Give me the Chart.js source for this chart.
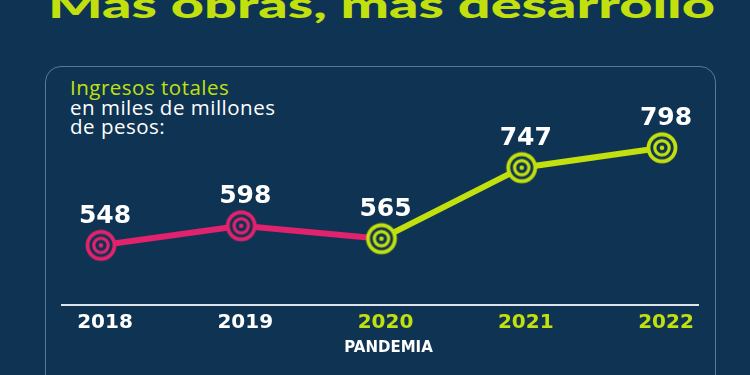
<!DOCTYPE html>
<html><head><meta charset="utf-8">
<script src="https://cdn.jsdelivr.net/npm/chart.js@4.4.0/dist/chart.umd.min.js"></script>
<style>
html,body{margin:0;padding:0;background:#0f3453;width:750px;height:375px;overflow:hidden;position:relative;}
#panel{position:absolute;left:45px;top:66px;width:671px;height:400px;border:1.5px solid rgba(190,205,220,0.45);border-radius:16px;box-sizing:border-box;}
#title{position:absolute;left:48px;top:-14px;font-family:Lato,"DejaVu Sans",sans-serif;font-weight:900;font-size:36px;line-height:36px;color:#c2e00e;white-space:nowrap;transform-origin:0 0;}
#sub{position:absolute;left:70px;top:78px;font-family:"Open Sans",sans-serif;font-size:20.5px;letter-spacing:0.5px;line-height:19.5px;color:#ffffff;}
#sub .lime{color:#c2e00e;}
canvas{position:absolute;left:0;top:0;}
</style></head>
<body>
<div id="panel"></div>
<div id="title"><span id="tspan">Mas obras, mas desarrollo</span></div>
<div id="sub"><span class="lime">Ingresos totales</span><br>en miles de millones<br>de pesos:</div>
<canvas id="c" width="750" height="375"></canvas>
<script>
const years = ['2018', '2019', '2020', '2021', '2022'];
const ingresos = [548, 598, 565, 747, 798];
const noteLabel = 'PANDEMIA';
const noteIndex = 2;

const BG = '#0f3453', LIME = '#c2e00e', PINK = '#e1226d', WHITE = '#ffffff';

// title width fit
const ts = document.getElementById('tspan');
const tw = ts.getBoundingClientRect().width;
document.getElementById('title').style.transform = 'scaleX(' + (667 / tw) + ')';

function ring(color){
  const s = 40, c = document.createElement('canvas');
  c.width = s; c.height = s;
  const g = c.getContext('2d'), m = s / 2;
  g.fillStyle = BG; g.beginPath(); g.arc(m, m, 15, 0, 2*Math.PI); g.fill();
  g.strokeStyle = color; g.lineWidth = 3.8;
  g.beginPath(); g.arc(m, m, 13.5, 0, 2*Math.PI); g.stroke();
  g.lineWidth = 3.2;
  g.beginPath(); g.arc(m, m, 7.2, 0, 2*Math.PI); g.stroke();
  g.fillStyle = color; g.beginPath(); g.arc(m, m, 2.3, 0, 2*Math.PI); g.fill();
  return c;
}
const pinkRing = ring(PINK), limeRing = ring(LIME);

const decor = {
  id: 'decor',
  beforeDatasetsDraw(chart){
    const {ctx, chartArea, scales:{x}} = chart;
    ctx.save();
    ctx.strokeStyle = '#dfe4ea'; ctx.lineWidth = 2;
    ctx.beginPath();
    ctx.moveTo(x.getPixelForValue(0) - 40, chartArea.bottom);
    ctx.lineTo(x.getPixelForValue(years.length - 1) + 37, chartArea.bottom);
    ctx.stroke();
    ctx.restore();
  },
  afterDatasetsDraw(chart){
    const {ctx, scales:{x}} = chart;
    const meta = chart.getDatasetMeta(0);
    ctx.save();
    ctx.fillStyle = WHITE;
    ctx.font = 'bold 25px "DejaVu Sans", sans-serif';
    ctx.textAlign = 'center'; ctx.textBaseline = 'middle';
    meta.data.forEach((pt, i) => {
      ctx.fillText(String(ingresos[i]), pt.x + 4, pt.y - 29);
    });
    ctx.font = 'bold 15px "DejaVu Sans", sans-serif';
    ctx.fillText(noteLabel, x.getPixelForValue(noteIndex) + 7, 348);
    ctx.restore();
  }
};

new Chart(document.getElementById('c'), {
  type: 'line',
  data: {
    labels: years,
    datasets: [{
      data: ingresos,
      borderWidth: 6,
      tension: 0,
      segment: { borderColor: c => c.p0DataIndex < noteIndex ? PINK : LIME },
      borderColor: LIME,
      pointStyle: c => c.dataIndex < noteIndex ? pinkRing : limeRing,
      pointRadius: 15,
      clip: false
    }]
  },
  options: {
    responsive: false,
    animation: false,
    devicePixelRatio: 1,
    layout: { padding: { left: 101, right: 88, top: 108, bottom: 0 } },
    plugins: { legend: { display: false }, tooltip: { enabled: false } },
    scales: {
      y: { display: false, min: 395, max: 900 },
      x: {
        offset: false,
        grid: { display: false, drawTicks: false },
        border: { display: false },
        afterFit(s){ s.height = 70; },
        ticks: {
          padding: 6,
          labelOffset: 4,
          maxRotation: 0,
          autoSkip: false,
          color: c => c.index >= noteIndex ? LIME : WHITE,
          font: { family: '"DejaVu Sans", sans-serif', weight: 'bold', size: 20 }
        }
      }
    }
  },
  plugins: [decor]
});
</script>
</body></html>
